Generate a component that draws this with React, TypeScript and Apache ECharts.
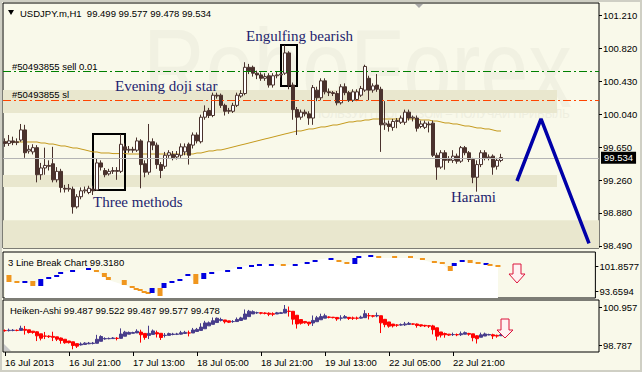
import React, { useEffect, useRef } from 'react';
import * as echarts from 'echarts';

// ---------- data ----------
// H1 candles, [open, high, low, close]
const ohlc: number[][] = [
  [99.72, 99.76, 99.66, 99.70], [99.70, 99.80, 99.67, 99.73], [99.73, 99.78, 99.68, 99.71], [99.71, 99.76, 99.68, 99.72],
  [99.74, 99.93, 99.72, 99.86], [99.86, 99.92, 99.53, 99.59], [99.61, 99.68, 99.58, 99.63], [99.60, 99.69, 99.57, 99.65],
  [99.65, 99.68, 99.24, 99.33], [99.33, 99.47, 99.27, 99.41], [99.41, 99.65, 99.33, 99.44], [99.44, 99.50, 99.38, 99.43],
  [99.46, 99.66, 99.24, 99.27], [99.27, 99.42, 99.24, 99.37], [99.37, 99.40, 99.12, 99.18], [99.17, 99.21, 99.12, 99.16],
  [99.16, 99.22, 99.13, 99.17], [99.16, 99.19, 98.87, 98.95], [98.95, 99.10, 98.93, 99.07], [99.07, 99.18, 99.04, 99.14],
  [99.14, 99.19, 99.11, 99.15], [99.12, 99.20, 99.10, 99.17], [99.16, 99.20, 99.09, 99.14], [99.15, 99.52, 99.14, 99.47],
  [99.47, 99.50, 99.38, 99.42], [99.38, 99.41, 99.30, 99.33], [99.34, 99.40, 99.32, 99.37], [99.37, 99.42, 99.34, 99.38],
  [99.38, 99.42, 99.27, 99.37], [99.37, 99.81, 99.35, 99.69], [99.66, 99.70, 99.58, 99.62], [99.62, 99.67, 99.59, 99.63],
  [99.63, 99.66, 99.59, 99.62], [99.62, 99.77, 99.60, 99.73], [99.73, 99.75, 99.17, 99.45], [99.46, 99.50, 99.30, 99.36],
  [99.36, 99.93, 99.33, 99.72], [99.72, 99.76, 99.62, 99.68], [99.68, 99.71, 99.40, 99.45], [99.45, 99.48, 99.29, 99.38],
  [99.43, 99.60, 99.40, 99.56], [99.56, 99.62, 99.53, 99.59], [99.57, 99.61, 99.50, 99.53], [99.54, 99.61, 99.51, 99.57],
  [99.56, 99.70, 99.53, 99.66], [99.60, 99.70, 99.56, 99.66], [99.69, 99.71, 99.45, 99.56], [99.68, 99.83, 99.64, 99.80],
  [99.80, 99.83, 99.70, 99.73], [99.72, 100.04, 99.70, 100.01], [100.01, 100.15, 99.98, 100.08], [100.09, 100.12, 100.00, 100.03],
  [100.03, 100.30, 100.01, 100.27], [100.27, 100.30, 100.23, 100.26], [100.27, 100.29, 100.12, 100.15], [100.15, 100.17, 100.03, 100.08],
  [100.08, 100.12, 100.05, 100.09], [100.08, 100.18, 100.06, 100.15], [100.15, 100.30, 100.13, 100.27], [100.26, 100.33, 100.24, 100.29],
  [100.29, 100.66, 100.27, 100.60], [100.60, 100.64, 100.52, 100.56], [100.60, 100.62, 100.49, 100.53], [100.53, 100.56, 100.46, 100.51],
  [100.51, 100.54, 100.44, 100.47], [100.47, 100.53, 100.44, 100.49], [100.50, 100.53, 100.36, 100.39], [100.39, 100.53, 100.36, 100.50],
  [100.50, 100.55, 100.47, 100.51], [100.51, 100.55, 100.48, 100.52], [100.53, 100.86, 100.51, 100.77], [100.77, 100.79, 100.34, 100.39],
  [100.39, 100.42, 99.98, 100.10], [100.10, 100.13, 99.80, 100.01], [100.01, 100.10, 99.98, 100.07], [100.07, 100.10, 100.02, 100.05],
  [100.05, 100.08, 99.92, 100.00], [100.00, 100.39, 99.92, 100.36], [100.33, 100.37, 100.20, 100.24], [100.24, 100.47, 100.21, 100.44],
  [100.44, 100.47, 100.28, 100.31], [100.31, 100.35, 100.26, 100.30], [100.30, 100.32, 100.26, 100.29], [100.29, 100.32, 100.15, 100.18],
  [100.18, 100.40, 100.16, 100.37], [100.37, 100.41, 100.27, 100.30], [100.30, 100.32, 100.19, 100.21], [100.21, 100.34, 100.19, 100.31],
  [100.22, 100.34, 100.20, 100.31], [100.27, 100.38, 100.25, 100.35], [100.33, 100.63, 100.31, 100.61], [100.47, 100.50, 100.21, 100.33],
  [100.33, 100.41, 100.30, 100.38], [100.39, 100.52, 100.31, 100.34], [100.34, 100.37, 99.60, 99.92], [99.92, 100.20, 99.86, 99.94],
  [99.93, 99.97, 99.84, 99.90], [99.89, 99.99, 99.85, 99.96], [99.96, 100.00, 99.88, 99.97], [99.95, 100.03, 99.93, 100.00],
  [99.95, 100.10, 99.92, 100.07], [100.07, 100.10, 99.97, 100.00], [100.00, 100.03, 99.96, 100.01], [100.00, 100.03, 99.84, 99.88],
  [99.90, 99.97, 99.88, 99.93], [99.89, 99.97, 99.87, 99.94], [99.93, 99.96, 99.83, 99.92], [99.94, 99.97, 99.54, 99.56],
  [99.56, 99.59, 99.27, 99.42], [99.42, 99.62, 99.40, 99.59], [99.59, 99.62, 99.39, 99.50], [99.50, 99.55, 99.47, 99.51],
  [99.50, 99.62, 99.47, 99.55], [99.55, 99.58, 99.46, 99.49], [99.49, 99.67, 99.47, 99.65], [99.65, 99.67, 99.56, 99.59],
  [99.59, 99.61, 99.48, 99.51], [99.51, 99.53, 99.23, 99.30], [99.30, 99.50, 99.13, 99.45], [99.45, 99.62, 99.42, 99.59],
  [99.59, 99.62, 99.50, 99.53], [99.53, 99.57, 99.50, 99.54], [99.55, 99.57, 99.33, 99.42], [99.43, 99.53, 99.39, 99.50],
  [99.499, 99.577, 99.478, 99.534],
];

// moving average (gold line)
const maValues: number[] = [
  99.717, 99.717, 99.717, 99.717, 99.717, 99.717, 99.717, 99.717, 99.717, 99.705,
  99.705, 99.693, 99.693, 99.682, 99.670, 99.670, 99.658, 99.646, 99.646, 99.634,
  99.623, 99.611, 99.599, 99.599, 99.587, 99.587, 99.587, 99.580, 99.580, 99.580,
  99.580, 99.575, 99.575, 99.575, 99.575, 99.575, 99.575, 99.575, 99.575, 99.575,
  99.575, 99.575, 99.575, 99.575, 99.575, 99.575, 99.575, 99.575, 99.587, 99.587,
  99.599, 99.611, 99.611, 99.623, 99.623, 99.634, 99.646, 99.658, 99.670, 99.682,
  99.693, 99.705, 99.717, 99.729, 99.741, 99.753, 99.764, 99.776, 99.788, 99.800,
  99.812, 99.823, 99.835, 99.847, 99.847, 99.859, 99.871, 99.871, 99.883, 99.895,
  99.895, 99.906, 99.918, 99.918, 99.930, 99.942, 99.954, 99.954, 99.965, 99.965,
  99.977, 99.977, 99.989, 99.989, 99.989, 99.989, 99.989, 99.989, 99.989, 99.989,
  99.989, 99.989, 99.989, 99.989, 99.977, 99.977, 99.977, 99.965, 99.965, 99.954,
  99.942, 99.942, 99.930, 99.930, 99.918, 99.906, 99.906, 99.895, 99.883, 99.883,
  99.871, 99.871, 99.859, 99.847, 99.847,
];

// 3 Line Break bricks: [bar index, open, close]
const lineBreakBricks: number[][] = [
  [1, 98.91, 96.61], [3, 96.94, 96.28], [5, 96.28, 96.94], [7, 96.94, 95.30], [9, 95.30, 97.59],
  [11, 97.59, 98.25], [13, 98.25, 98.91], [14, 99.23, 99.89], [17, 99.89, 100.55], [21, 100.55, 101.20],
  [23, 100.55, 99.89], [25, 99.56, 98.25], [26, 98.25, 97.27], [30, 97.27, 95.63], [32, 95.30, 94.64],
  [33, 94.64, 93.99], [34, 94.32, 93.66], [35, 93.66, 93.00], [36, 93.33, 92.68], [37, 93.00, 94.64],
  [39, 94.64, 92.02], [40, 94.64, 96.28], [42, 96.28, 96.94], [44, 96.94, 97.59], [46, 98.58, 99.23],
  [48, 99.23, 95.96], [50, 97.59, 99.56], [52, 99.23, 99.89], [56, 99.89, 100.55], [59, 100.87, 101.53],
  [62, 101.53, 102.19], [64, 101.86, 102.51], [67, 101.86, 102.51], [70, 102.51, 101.86], [73, 101.86, 102.51],
  [76, 102.51, 103.17], [78, 103.17, 103.83], [82, 103.83, 104.48], [84, 103.83, 103.17], [86, 103.17, 102.51],
  [88, 102.51, 104.48], [89, 104.48, 105.14], [92, 104.81, 105.47], [94, 105.14, 104.48], [98, 105.14, 104.48],
  [102, 105.14, 104.48], [105, 104.48, 103.83], [108, 103.50, 102.84], [110, 103.17, 102.51], [112, 101.86, 100.22],
  [113, 101.86, 102.84], [115, 103.17, 103.83], [117, 103.83, 102.84], [119, 103.17, 102.51], [121, 102.19, 102.84],
  [122, 102.51, 101.86], [124, 102.19, 101.53],
];

const priceTicks = [98.49, 98.88, 99.26, 99.65, 100.04, 100.43, 100.82, 101.21];
const lineBreakTicks = [93.6594, 101.8577];
const heikenTicks = [98.787, 100.957];
const timeLabels = ['16 Jul 2013', '16 Jul 21:00', '17 Jul 13:00', '18 Jul 05:00', '18 Jul 21:00', '19 Jul 13:00', '22 Jul 05:00', '22 Jul 21:00'];

const lastPrice = 99.534;
const sellLevel = 100.545;
const stopLevel = 100.214;
// zones: [top, bottom, last bar index or null for full width]
const zones: (number | null)[][] = [[100.331, 100.059, 138], [99.327, 99.185, 138], [98.793, 98.464, null]];
// pattern boxes: [first bar, last bar, top, bottom]
const patternBoxes: number[][] = [[22, 30, 99.812, 99.150], [69, 73, 100.864, 100.379]];
// forecast zigzag: [bar index, price]
const forecast: number[][] = [[128, 99.256], [134, 99.99], [146, 98.52]];

const SLOTS = 149;
const BG = '#F9F9EA';
const ZONE = '#E9E7CE';
const SANS = '"Liberation Sans", Arial, sans-serif';
const SERIF = '"Liberation Serif", "Times New Roman", serif';

export default function App() {
  const ref = useRef<HTMLDivElement>(null);
  useEffect(() => {
    if (!ref.current) return;
    const chart = echarts.init(ref.current, null, { renderer: 'svg' });

    const cats = Array.from({ length: SLOTS }, (_, i) => String(i));
    const candles = ohlc.map(([o, h, l, c]) => [o, c, l, h]);
    const ha: number[][] = [];
    let pO = 0, pC = 0;
    ohlc.forEach(([o, h, l, c], i) => {
      const hc = (o + h + l + c) / 4;
      const ho = i === 0 ? (o + c) / 2 : (pO + pC) / 2;
      ha.push([ho, hc, Math.min(l, ho, hc), Math.max(h, ho, hc)]);
      pO = ho; pC = hc;
    });
    const lbArea = [[String(0), lineBreakBricks[0][1]], ...lineBreakBricks.map((b) => [String(b[0]), b[2]])];

    const measure = (text: string, font: string) => {
      const ctx = document.createElement('canvas').getContext('2d') as CanvasRenderingContext2D;
      ctx.font = font;
      return ctx.measureText(text).width || 1;
    };
    const wmText = 'RoboForex';
    const wmHeight = 112;
    const wmRatio = 429 / measure(wmText, wmHeight + 'px "Liberation Sans"');
    const wmSize = wmHeight * wmRatio;
    const slogan = 'ПОЛЬЗУЙ ПРОГНОЗОМ – ПОЛУЧАЙ ПРИБЫЛЬ';
    const sloganRatio = 257 / measure(slogan, '13px "Liberation Sans"');
    const sloganSize = 13 * sloganRatio;

    const showTick = (i: number) => i % 16 === 0 && i / 16 < timeLabels.length;

    const xBase = (g: number) => ({
      type: 'category', gridIndex: g, data: cats, boundaryGap: true,
      axisLine: { show: false }, axisTick: { show: false }, axisLabel: { show: false }, splitLine: { show: false },
    });
    const yLabelAxis = (g: number, min: number, max: number, ticks: number[], dec: number) => ({
      type: 'value', gridIndex: g, position: 'right', min, max,
      axisLine: { show: false }, splitLine: { show: false },
      axisTick: { show: true, length: 3, customValues: ticks, lineStyle: { color: '#000' } },
      axisLabel: {
        show: true, customValues: ticks, margin: 4, color: '#000', fontSize: 9.5, fontFamily: SANS,
        formatter: (v: number) => v.toFixed(dec),
      },
    });

    const txt = (x: number, y: number, text: string, style: any = {}) => ({
      type: 'text', x, y, z: 20, silent: true,
      style: { text, fill: '#000', fontSize: 9.5, fontFamily: SANS, align: 'left', verticalAlign: 'middle', ...style },
    });
    const label = (x: number, y: number, text: string) =>
      txt(x, y, text, { fill: '#1E1E6E', fontSize: 15, fontFamily: SERIF });

    const option: any = {
      animation: false,
      backgroundColor: BG,
      grid: [
        { left: 3, top: 3, width: 596, height: 245, show: true, backgroundColor: 'transparent', borderColor: '#000', borderWidth: 1 },
        { left: 3, top: 252, width: 596, height: 46, show: true, backgroundColor: 'transparent', borderColor: '#000', borderWidth: 1 },
        { left: 3, top: 300, width: 596, height: 52, show: true, backgroundColor: 'transparent', borderColor: '#000', borderWidth: 1 },
      ],
      xAxis: [
        xBase(0),
        xBase(1),
        {
          ...xBase(2), position: 'bottom',
          axisTick: { show: true, alignWithLabel: true, length: 4, interval: showTick, lineStyle: { color: '#000' } },
          axisLabel: {
            show: true, interval: showTick, align: 'left', margin: 5, color: '#000', fontSize: 9.5, fontFamily: SANS,
            formatter: (_v: string, i: number) => timeLabels[i / 16] || '',
          },
        },
      ],
      yAxis: [
        yLabelAxis(0, 98.464, 101.36, priceTicks, 3),
        yLabelAxis(1, 91.364, 106.449, lineBreakTicks, 4),
        { type: 'value', gridIndex: 2, min: 98.749, max: 101.085, show: false },
        yLabelAxis(2, 98.38, 101.405, heikenTicks, 3),
      ],
      series: [
        {
          type: 'line', name: 'MA', xAxisIndex: 0, yAxisIndex: 0, data: maValues, z: 2,
          symbol: 'none', lineStyle: { color: '#C4991C', width: 1 },
          markArea: {
            silent: true, label: { show: false },
            data: [
              ...zones.map(([top, bottom, end]) => [
                { yAxis: top, itemStyle: { color: ZONE, borderWidth: 0 } },
                end == null ? { yAxis: bottom } : { yAxis: bottom, xAxis: String(end) },
              ]),
              ...patternBoxes.map(([a, b, top, bottom]) => [
                { xAxis: String(a), yAxis: top, itemStyle: { color: 'rgba(0,0,0,0)', borderColor: '#000', borderWidth: 2 } },
                { xAxis: String(b), yAxis: bottom },
              ]),
            ],
          },
          markLine: {
            silent: true, symbol: 'none',
            data: [
              {
                yAxis: lastPrice, lineStyle: { color: '#B4B4B4', type: 'solid', width: 1 },
                label: {
                  show: true, position: 'end', distance: 2, formatter: lastPrice.toFixed(3),
                  backgroundColor: '#000', color: '#fff', padding: [1, 3, 1, 3], fontSize: 9.5, fontFamily: SANS,
                },
              },
              { yAxis: sellLevel, lineStyle: { color: '#008000', type: [8, 3, 2, 3], width: 1 }, label: { show: false } },
              { yAxis: stopLevel, lineStyle: { color: '#FF4500', type: [8, 3, 2, 3], width: 1 }, label: { show: false } },
            ],
          },
        },
        {
          type: 'candlestick', xAxisIndex: 0, yAxisIndex: 0, data: candles, z: 3, barWidth: 3,
          itemStyle: { color: '#FFFFFF', color0: '#4A322D', borderColor: '#4A322D', borderColor0: '#4A322D', borderWidth: 1 },
        },
        {
          type: 'line', xAxisIndex: 0, yAxisIndex: 0, z: 6, symbol: 'none',
          data: forecast.map(([i, p]) => [String(i), p]),
          lineStyle: { color: '#0000A8', width: 3.5 },
        },
        {
          type: 'line', xAxisIndex: 1, yAxisIndex: 1, data: lbArea, symbol: 'none', z: 2,
          lineStyle: { width: 0, opacity: 0 }, areaStyle: { color: '#FFFFFF', opacity: 1, origin: 'start' },
        },
        {
          type: 'custom', xAxisIndex: 1, yAxisIndex: 1, data: lineBreakBricks, z: 3,
          encode: { x: 0, y: [1, 2] },
          renderItem: (_p: any, api: any) => {
            const x = api.value(0), o = api.value(1), c = api.value(2);
            const p1 = api.coord([x, o]);
            const p2 = api.coord([x, c]);
            const top = Math.min(p1[1], p2[1]);
            const h = Math.max(2, Math.abs(p1[1] - p2[1]));
            return {
              type: 'rect',
              shape: { x: p1[0] - 2.5, y: top, width: 5, height: h },
              style: { fill: c >= o ? '#0000E0' : '#F0961E' },
            };
          },
        },
        {
          type: 'candlestick', xAxisIndex: 2, yAxisIndex: 2, data: ha, z: 3, barWidth: 3,
          itemStyle: { color: '#483D8B', color0: '#FF0000', borderColor: '#483D8B', borderColor0: '#FF0000', borderWidth: 1 },
        },
      ],
      graphic: [
        { type: 'rect', z: 0, silent: true, shape: { x: 1, y: 1, width: 640, height: 370 }, style: { fill: 'none', stroke: '#CFCFC4', lineWidth: 2 } },
        {
          type: 'text', x: 143, y: 68, scaleY: 1 / wmRatio, z: 0, silent: true,
          style: { text: wmText, fontSize: wmSize, fontFamily: '"Liberation Sans"', fill: '#F1F1E2', align: 'left', verticalAlign: 'middle' },
        },
        {
          type: 'text', x: 313, y: 114, scaleY: 1 / sloganRatio, z: 0, silent: true,
          style: { text: slogan, fontSize: sloganSize, fontFamily: '"Liberation Sans"', fill: '#EEEEDF', align: 'left', verticalAlign: 'middle' },
        },
        { type: 'polygon', z: 20, silent: true, shape: { points: [[8, 10], [14, 10], [11, 15]] }, style: { fill: '#000' } },
        txt(20, 13, 'USDJPY.m,H1  99.499 99.577 99.478 99.534'),
        txt(12, 66, '#50493855 sell 0.01'),
        txt(12, 94, '#50493855 sl'),
        label(115, 86, 'Evening doji star'),
        label(246, 36, 'Engulfing bearish'),
        label(93, 202, 'Three methods'),
        label(451, 197, 'Harami'),
        txt(8, 262, '3 Line Break Chart 99.3180'),
        txt(10, 310, 'Heiken-Ashi 99.487 99.522 99.487 99.577 99.478'),
        { type: 'polygon', z: 20, silent: true, shape: { points: [[415, 4], [423, 4], [419, 8]] }, style: { fill: '#A8A8A8' } },
        { type: 'polygon', z: 20, silent: true, shape: { points: [[4, 344], [4, 351], [11, 351]] }, style: { fill: '#C8C8C8' } },
        {
          type: 'polygon', z: 20, silent: true,
          shape: { points: [[513, 264], [521, 264], [521, 274], [525, 274], [517, 283], [509, 274], [513, 274]] },
          style: { fill: '#FFF2F2', stroke: '#DC143C', lineWidth: 1 },
        },
        {
          type: 'polygon', z: 20, silent: true,
          shape: { points: [[501, 319], [509, 319], [509, 330], [513, 330], [505, 338], [497, 330], [501, 330]] },
          style: { fill: '#FFF2F2', stroke: '#DC143C', lineWidth: 1 },
        },
      ],
    };

    chart.setOption(option);
    return () => chart.dispose();
  }, []);

  return (
    <div
      ref={ref}
      style={{ position: 'fixed', left: 0, top: 0, width: 642, height: 372, background: BG }}
    />
  );
}
